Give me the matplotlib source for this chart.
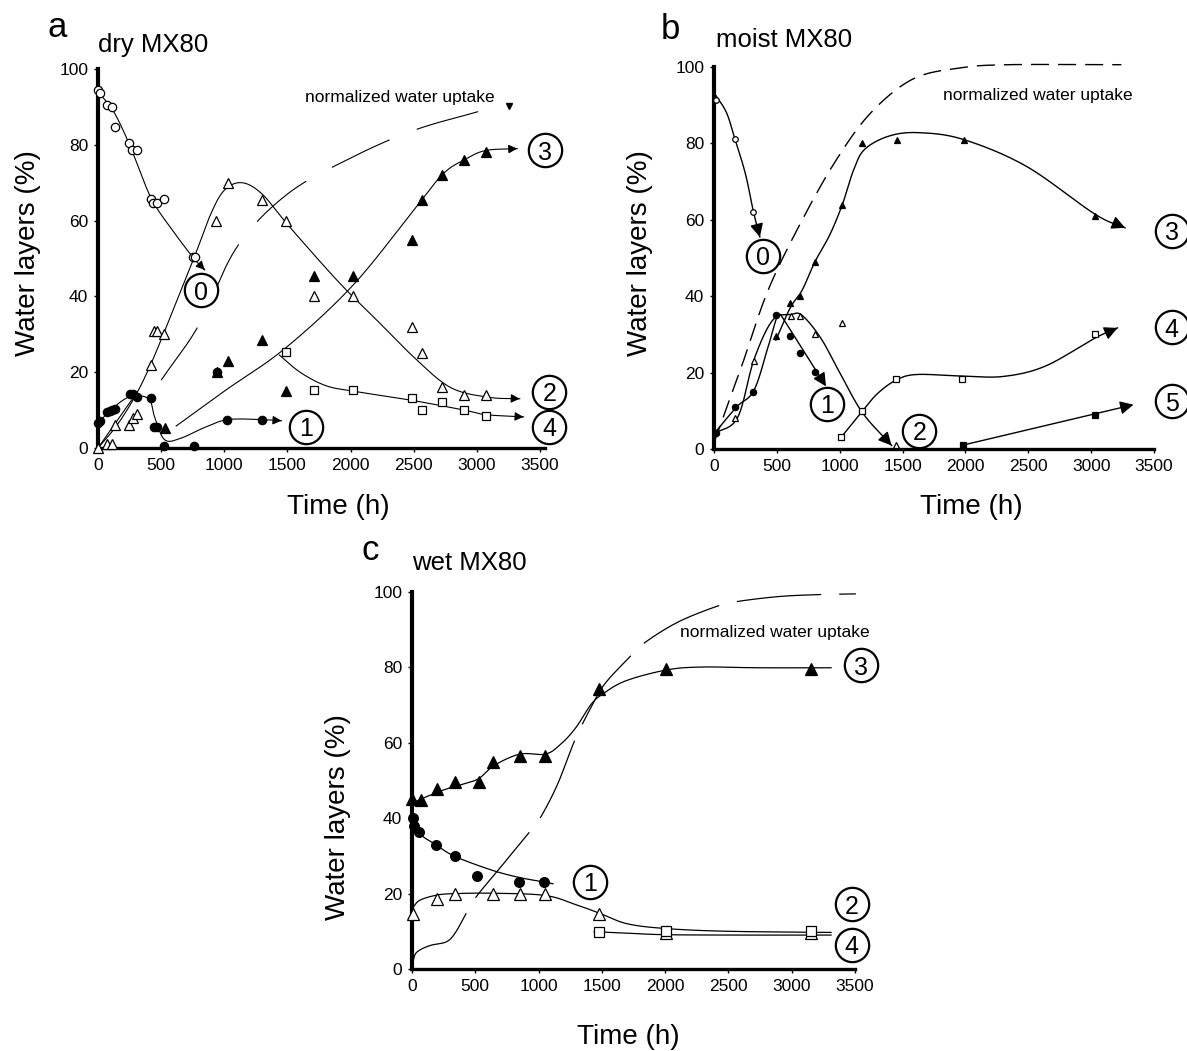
import numpy as np
import matplotlib.pyplot as plt

plt.rcParams['font.family'] = ['Liberation Sans', 'DejaVu Sans']
plt.rcParams['lines.scale_dashes'] = False

# ---------------- panel a: dry MX80 ----------------
a0_t = [0, 18, 74, 113, 137, 247, 268, 312, 420, 435, 464, 521, 753, 768]
a0_v = [94.5, 93.6, 90.4, 89.9, 84.7, 80.6, 78.7, 78.7, 65.6, 64.7, 64.7, 65.6, 50.3, 50.3]
a1_t = [0, 15, 74, 95, 113, 137, 256, 277, 312, 423, 440, 470, 521, 759, 940, 1024, 1295]
a1_v = [6.5, 7, 9.5, 9.8, 10, 10.2, 14.3, 14.3, 13.5, 13.2, 5.5, 5.5, 0.4, 0.4, 20, 7.3, 7.3]
a2_t = [0, 68, 113, 137, 247, 277, 310, 420, 440, 470, 521, 931, 1030, 1295, 1488, 1708, 2018, 2485, 2568, 2726, 2902, 3071]
a2_v = [0, 1, 1.1, 6, 6, 8, 9, 22, 31, 31, 30, 60, 70, 65.4, 60, 40, 40, 32, 25, 16, 14, 14]
a3_t = [530, 940, 1030, 1295, 1488, 1708, 2018, 2485, 2568, 2726, 2902, 3071]
a3_v = [5.2, 20, 23, 28.4, 15, 45.4, 45.4, 55, 65.5, 72, 76, 78]
a4_t = [1488, 1708, 2018, 2485, 2568, 2726, 2902, 3071]
a4_v = [25.4, 15.2, 15.2, 13.2, 10.1, 12.2, 10.1, 8.4]

# hand drawn fit curves (knots)
a0_fit_t = [0, 120, 250, 420, 600, 760, 845]
a0_fit_v = [94, 89, 80, 66, 57, 50, 47]
a1_fit_t = [0, 100, 250, 400, 450, 527, 650, 850, 1030, 1295, 1453]
a1_fit_v = [6.5, 10, 13.5, 13, 8, 2.2, 2.5, 5.5, 7.5, 7.5, 7.2]
a2_fit_t = [0, 150, 300, 430, 590, 770, 890, 1000, 1140, 1300, 1500, 1900, 2200, 2500, 2790, 3090, 3340]
a2_fit_v = [0, 6, 14, 23, 36, 51, 61.5, 68, 70, 67, 59, 44, 34, 24, 16, 13.4, 13]
a3_fit_t = [619, 1000, 1482, 2018, 2494, 2732, 2911, 3071, 3320]
a3_fit_v = [5.8, 15, 26.3, 42.9, 62.5, 72.3, 76.2, 78.5, 79]
a4_fit_t = [1437, 1600, 1800, 2018, 2500, 2900, 3071, 3370]
a4_fit_v = [24.5, 20, 16.5, 15, 12.5, 10, 8.8, 8.2]
a_extra_t = [0, 290]
a_extra_v = [0, 13.8]
a_up_t = [500, 800, 1100, 1500, 2000, 2500, 3015]
a_up_v = [17.9, 32.5, 53, 67, 76.5, 83.8, 88.8]

# ---------------- panel b: moist MX80 ----------------
b0_t = [18, 166, 314]
b0_v = [91.4, 81.2, 62.1]
b1_t = [18, 169, 311, 492, 607, 682, 803]
b1_v = [4.2, 10.9, 15, 35.2, 29.5, 25.2, 20.1]
b2_t = [169, 317, 613, 682, 803, 1021, 1447]
b2_v = [8.1, 23, 34.9, 34.9, 30, 33, 1.0]
b3_t = [492, 607, 682, 803, 1021, 1181, 1453, 1987, 3029]
b3_v = [29.7, 38.1, 40, 49, 64, 80, 81, 81, 61]
b4_t = [1012, 1181, 1447, 1972, 3029]
b4_v = [3.1, 9.9, 18.2, 18.2, 30.1]
b5_t = [1978, 3029]
b5_v = [1.0, 9.0]

b0_fit_t = [16, 100, 166, 250, 314, 365]
b0_fit_v = [92.5, 88, 81.2, 72, 62.1, 55.5]
b1_fit_t = [0, 180, 317, 428, 500, 530]
b1_fit_v = [4, 11, 15.3, 26.5, 34.5, 35.2]
b1_arrow = [(530, 35.2), (891, 16.4)]
b2_fit_t = [0, 187, 317, 466, 611, 700, 850, 1000, 1181, 1413]
b2_fit_v = [4, 8.2, 23.3, 33.7, 35.2, 35, 29, 20, 9.5, 0.9]
b3_fit_t = [492, 607, 700, 803, 920, 1021, 1110, 1200, 1400, 1640, 1987, 2485, 3029, 3270]
b3_fit_v = [28.5, 37, 41.5, 49, 56, 64, 73, 78.5, 82, 82.8, 81, 74, 61.5, 57.9]
b4_fit_t = [1012, 1181, 1300, 1447, 1610, 1972, 2304, 2636, 3029, 3210]
b4_fit_v = [3.1, 9.9, 14.5, 18, 19.5, 19.1, 19, 21.7, 29, 31.7]
b5_arrow = [(1978, 1.0), (3337, 11.6)]
b_up_t = [0, 220, 432, 704, 975, 1247, 1579, 1942, 2334, 3240]
b_up_v = [1.6, 21.7, 41.7, 60.1, 75.8, 88, 96.8, 99.7, 100.6, 100.6]

# ---------------- panel c: wet MX80 ----------------
c1_t = [6, 15, 54, 187, 337, 512, 849, 1045]
c1_v = [40, 37.9, 36.3, 33, 29.9, 24.8, 23.1, 23.1]
c2_t = [9, 196, 340, 641, 852, 1054, 1481, 2008, 3154]
c2_v = [14.5, 18.7, 20, 19.8, 19.8, 19.8, 14.5, 9.6, 9.6]
c3_t = [0, 69, 196, 340, 527, 638, 852, 1054, 1481, 2008, 3154]
c3_v = [45, 44.7, 47.8, 49.7, 49.7, 54.8, 56.6, 56.4, 74.2, 79.6, 79.6]
c4_t = [1475, 2008, 3154]
c4_v = [9.9, 10, 10]

c1_fit_t = [0, 15, 60, 187, 337, 632, 858, 1045, 1114]
c1_fit_v = [41, 39.4, 35.9, 33, 29.9, 26.2, 24.2, 23.1, 22.6]
c2_fit_t = [0, 60, 196, 340, 641, 1054, 1300, 1481, 1700, 2017, 2500, 3311]
c2_fit_v = [16, 18.2, 19.6, 20, 20.1, 19.5, 17, 14.8, 12, 10.7, 10, 9.7]
c3_fit_t = [0, 100, 250, 400, 527, 650, 852, 1054, 1174, 1294, 1415, 1505, 1686, 2008, 2288, 2739, 3311]
c3_fit_v = [44, 45.5, 47.5, 49, 50.5, 54, 57, 57, 59.6, 64, 70.2, 72.9, 76.4, 79.3, 80.1, 79.9, 79.9]
c4_fit_t = [1439, 1700, 2008, 2600, 3311]
c4_fit_v = [9.9, 9.5, 9.1, 9.0, 9.0]
c_up_t = [0, 20, 60, 150, 271, 340, 421, 506, 700, 918, 1017, 1150, 1279, 1400, 1520, 1716, 1836, 2100, 2408, 2574, 2900, 3205, 3507]
c_up_v = [0, 3.5, 5, 6.3, 7.2, 9.5, 14.3, 19.1, 27, 35.9, 40.3, 49, 60.1, 68.5, 75.5, 82.6, 86.5, 92, 96.2, 97.5, 98.8, 99.3, 99.5]


def smooth(t, v, n=24):
    # catmull-rom through the knots
    p = np.column_stack([t, v]).astype(float)
    p = np.vstack([2 * p[0] - p[1], p, 2 * p[-1] - p[-2]])
    s = np.linspace(0, 1, n, endpoint=False)[:, None]
    out = []
    for i in range(1, len(p) - 2):
        p0, p1, p2, p3 = p[i - 1], p[i], p[i + 1], p[i + 2]
        out.append(0.5 * (2 * p1 + (-p0 + p2) * s + (2 * p0 - 5 * p1 + 4 * p2 - p3) * s ** 2
                          + (-p0 + 3 * p1 - 3 * p2 + p3) * s ** 3))
    out.append(p[-2][None, :])
    out = np.vstack(out)
    return out[:, 0], out[:, 1]


def arrow(ax, start, end, lw=0.8, head=12):
    ax.annotate('', xy=end, xytext=start, annotation_clip=False,
                arrowprops=dict(arrowstyle='-|>', color='k', lw=lw, mutation_scale=head,
                                shrinkA=0, shrinkB=0))


def fit_line(ax, t, v, lw=0.8, head=None, dashes=None):
    x, y = smooth(t, v)
    line, = ax.plot(x, y, color='k', lw=lw, clip_on=False)
    if dashes is not None:
        line.set_dashes(dashes)
    if head is not None:
        arrow(ax, (x[-3], y[-3]), (x[-1], y[-1]), lw=lw, head=head)


def points(ax, t, v, marker, filled, ms):
    ax.plot(t, v, marker, ls='none', ms=ms, mfc='k' if filled else 'white',
            mec='k', mew=0.9, clip_on=False, zorder=4)


def circled(ax, x, y, s):
    ax.plot(x, y, 'o', ms=24, mfc='white', mec='k', mew=1.6, clip_on=False, zorder=6)
    ax.text(x, y, s, fontsize=18, ha='center', va='center_baseline', zorder=7, clip_on=False)


def style_axes(ax, xmax):
    ax.set_xlim(0, xmax)
    ax.set_ylim(0, 100)
    ax.set_xticks(np.arange(0, 3501, 500))
    ax.set_yticks(np.arange(0, 101, 20))
    ax.spines['top'].set_visible(False)
    ax.spines['right'].set_visible(False)
    ax.spines['left'].set_linewidth(3)
    ax.spines['bottom'].set_linewidth(2.4)
    ax.tick_params(direction='out', length=3, width=1, labelsize=12.5, pad=4)
    ax.patch.set_visible(False)


W, H = 1187, 1051
fig = plt.figure(figsize=(W / 100, H / 100), dpi=100)

ax_a = fig.add_axes([98 / W, 1 - 448 / H, 447 / W, 379 / H])
ax_b = fig.add_axes([714 / W, 1 - 449 / H, 440 / W, 382 / H])
ax_c = fig.add_axes([412 / W, 1 - 969 / H, 443 / W, 377 / H])
style_axes(ax_a, 3540)
style_axes(ax_b, 3500)
style_axes(ax_c, 3500)

# ---- a ----
fit_line(ax_a, a0_fit_t, a0_fit_v, head=13)
fit_line(ax_a, a1_fit_t, a1_fit_v, head=13)
fit_line(ax_a, a2_fit_t, a2_fit_v, head=13)
fit_line(ax_a, a3_fit_t, a3_fit_v, head=13)
fit_line(ax_a, a4_fit_t, a4_fit_v, head=13)
ax_a.plot(a_extra_t, a_extra_v, color='k', lw=0.8, clip_on=False)
fit_line(ax_a, a_up_t, a_up_v, dashes=(46, 21))
points(ax_a, a0_t, a0_v, 'o', False, 6)
points(ax_a, a2_t, a2_v, '^', False, 7)
points(ax_a, a1_t, a1_v, 'o', True, 6)
points(ax_a, a3_t, a3_v, '^', True, 7)
points(ax_a, a4_t, a4_v, 's', False, 6)
ax_a.text(2390, 92.5, 'normalized water uptake', fontsize=12.5, ha='center', va='center')
ax_a.plot([3254], [90.3], 'v', color='k', ms=5, clip_on=False)
circled(ax_a, 816, 41.6, '0')
circled(ax_a, 1650, 5.6, '1')
circled(ax_a, 3575, 14.8, '2')
circled(ax_a, 3540, 78.5, '3')
circled(ax_a, 3575, 5.6, '4')

# ---- b ----
fit_line(ax_b, b0_fit_t, b0_fit_v, lw=1.0, head=20)
fit_line(ax_b, b1_fit_t, b1_fit_v, lw=1.0)
arrow(ax_b, b1_arrow[0], b1_arrow[1], lw=1.0, head=20)
fit_line(ax_b, b2_fit_t, b2_fit_v, lw=1.0, head=20)
fit_line(ax_b, b3_fit_t, b3_fit_v, lw=1.0, head=20)
fit_line(ax_b, b4_fit_t, b4_fit_v, lw=1.0, head=20)
arrow(ax_b, b5_arrow[0], b5_arrow[1], lw=1.0, head=20)
fit_line(ax_b, b_up_t, b_up_v, lw=1.0, dashes=(13, 6.5))
points(ax_b, b0_t, b0_v, 'o', False, 4)
points(ax_b, b1_t, b1_v, 'o', True, 4.5)
points(ax_b, b2_t, b2_v, '^', False, 5)
points(ax_b, b3_t, b3_v, '^', True, 5)
points(ax_b, b4_t, b4_v, 's', False, 4.5)
points(ax_b, b5_t, b5_v, 's', True, 4.5)
ax_b.text(2577, 92.5, 'normalized water uptake', fontsize=12.5, ha='center', va='center')
circled(ax_b, 391, 50.6, '0')
circled(ax_b, 897, 11.8, '1')
circled(ax_b, 1633, 4.8, '2')
circled(ax_b, 3640, 57.1, '3')
circled(ax_b, 3640, 31.9, '4')
circled(ax_b, 3640, 12.5, '5')

# ---- c ----
fit_line(ax_c, c1_fit_t, c1_fit_v, lw=0.9)
fit_line(ax_c, c2_fit_t, c2_fit_v, lw=0.9)
fit_line(ax_c, c3_fit_t, c3_fit_v, lw=0.9)
fit_line(ax_c, c4_fit_t, c4_fit_v, lw=0.9)
fit_line(ax_c, c_up_t, c_up_v, lw=0.9, dashes=(61, 13))
points(ax_c, c2_t, c2_v, '^', False, 8)
points(ax_c, c3_t, c3_v, '^', True, 8)
points(ax_c, c1_t, c1_v, 'o', True, 7)
points(ax_c, c4_t, c4_v, 's', False, 6.5)
ax_c.text(2867, 89.2, 'normalized water uptake', fontsize=12.5, ha='center', va='center')
circled(ax_c, 1409, 23.2, '1')
circled(ax_c, 3473, 17.2, '2')
circled(ax_c, 3549, 80.6, '3')
circled(ax_c, 3473, 6.4, '4')

# panel letters, titles, axis labels
for x, y, s in [(57, 37, 'a'), (670, 39, 'b'), (370, 560, 'c')]:
    fig.text(x / W, 1 - y / H, s, fontsize=25, ha='center', va='baseline')
for x, y, s in [(98, 52, 'dry MX80'), (716, 47, 'moist MX80'), (412, 570, 'wet MX80')]:
    fig.text(x / W, 1 - y / H, s, fontsize=18.5, ha='left', va='baseline')
for x, y in [(28, 253), (640, 253), (338, 817)]:
    fig.text(x / W, 1 - y / H, 'Water layers (%)', fontsize=20, rotation=90, ha='center', va='center')
for x, y in [(338, 507), (971, 507), (628, 1037)]:
    fig.text(x / W, 1 - y / H, 'Time (h)', fontsize=20, ha='center', va='center')

fig.savefig('out.png', dpi=100)
